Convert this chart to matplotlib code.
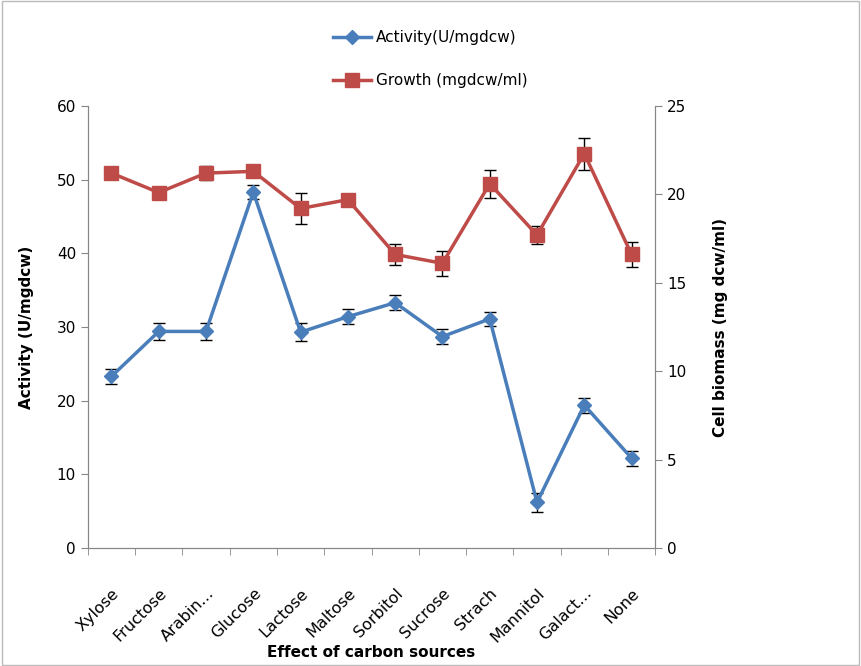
import numpy as np
import matplotlib.pyplot as plt
from matplotlib.lines import Line2D
from matplotlib.transforms import ScaledTranslation

# Daten
sources = ['Xylose', 'Fructose', 'Arabin...', 'Glucose', 'Lactose', 'Maltose',
           'Sorbitol', 'Sucrose', 'Strach', 'Mannitol', 'Galact...', 'None']
activity = [23.3, 29.4, 29.4, 48.3, 29.3, 31.4, 33.3, 28.7, 31.1, 6.2, 19.4, 12.2]
activity_err = [1.0, 1.2, 1.1, 1.0, 1.2, 1.0, 1.0, 1.0, 1.0, 1.3, 1.0, 1.0]
growth = [21.2, 20.1, 21.2, 21.3, 19.2, 19.7, 16.6, 16.1, 20.6, 17.7, 22.3, 16.6]
growth_err = [0.3, 0.3, 0.4, 0.3, 0.9, 0.3, 0.6, 0.7, 0.8, 0.5, 0.9, 0.7]

blue = '#4A7EBB'
red = '#BE4B48'
grey = '#868686'

fig = plt.figure(figsize=(8.61, 6.66), dpi=100)
ax = fig.add_axes([0.102, 0.177, 0.659, 0.664])
ax2 = ax.twinx()

x = np.arange(len(sources))
ax.errorbar(x, activity, yerr=activity_err, color=blue, lw=2.5, marker='D',
            ms=7, ecolor='black', elinewidth=1, capsize=4)
ax2.errorbar(x, growth, yerr=growth_err, color=red, lw=2.5, marker='s',
             ms=10, ecolor='black', elinewidth=1, capsize=4)

ax.set_xlim(-0.5, len(sources) - 0.5)
ax.set_ylim(0, 60)
ax2.set_ylim(0, 25)
ax.set_yticks(range(0, 61, 10))
ax2.set_yticks(range(0, 26, 5))

ax.set_xticks(x)
ax.set_xticklabels(sources, rotation=45, ha='right', rotation_mode='anchor', fontsize=11.5)
shift = ScaledTranslation(-5 / 100, 0, fig.dpi_scale_trans)
for lab in ax.get_xticklabels():
    lab.set_transform(lab.get_transform() + shift)
ax.set_xticks(np.arange(-0.5, len(sources)), minor=True)
ax.tick_params(axis='x', which='major', length=0, pad=27)
ax.tick_params(axis='x', which='minor', length=5, color=grey)
ax.tick_params(axis='y', length=5, color=grey, labelsize=11)
ax2.tick_params(axis='y', length=5, color=grey, labelsize=11)

for a in (ax, ax2):
    a.spines['top'].set_visible(False)
    for s in ('left', 'right', 'bottom'):
        a.spines[s].set_color(grey)

ax.set_xlabel('Effect of carbon sources', fontweight='bold', fontsize=11, labelpad=0)
ax.set_ylabel('Activity (U/mgdcw)', fontweight='bold', fontsize=11, labelpad=16)
ax2.set_ylabel('Cell biomass (mg dcw/ml)', fontweight='bold', fontsize=11, labelpad=19)

handles = [Line2D([], [], color=blue, lw=2.5, marker='D', ms=7),
           Line2D([], [], color=red, lw=2.5, marker='s', ms=10)]
fig.legend(handles=handles, labels=['Activity(U/mgdcw)', 'Growth (mgdcw/ml)'],
           loc='upper center', bbox_to_anchor=(0.5, 0.975), ncol=1, frameon=False,
           fontsize=11, handlelength=2.5, labelspacing=1.8, handletextpad=0.3)

fig.patches.append(plt.Rectangle((0.002, 0.002), 0.996, 0.996, transform=fig.transFigure,
                                 fill=False, edgecolor='#bbbbbb', lw=1))

plt.savefig('out.png', dpi=100)
